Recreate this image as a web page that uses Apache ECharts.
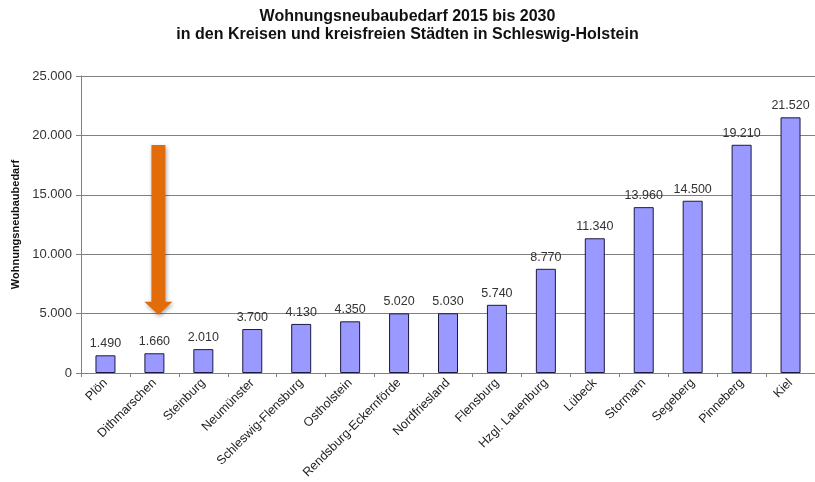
<!DOCTYPE html>
<html><head><meta charset="utf-8">
<script src="https://cdn.jsdelivr.net/npm/echarts@6/dist/echarts.min.js"></script>
<style>html,body{margin:0;padding:0;background:#fff}#c{width:815px;height:482px}</style>
</head><body><div id="c"></div>
<script>
const categories = ["Plön","Dithmarschen","Steinburg","Neumünster","Schleswig-Flensburg","Ostholstein","Rendsburg-Eckernförde","Nordfriesland","Flensburg","Hzgl. Lauenburg","Lübeck","Stormarn","Segeberg","Pinneberg","Kiel"];
const values = [1490,1660,2010,3700,4130,4350,5020,5030,5740,8770,11340,13960,14500,19210,21520];
const titleLines = ["Wohnungsneubaubedarf 2015 bis 2030","in den Kreisen und kreisfreien Städten in Schleswig-Holstein"];
const yAxisName = "Wohnungsneubaubedarf";
const arrowCategory = "Dithmarschen";
const arrowFrom = 19200, arrowTo = 4900;

const fmt = v => String(v).replace(/\B(?=(\d{3})+(?!\d))/g, ".");
const chart = echarts.init(document.getElementById('c'), null, {renderer:'canvas'});
chart.setOption({
  animation:false,
  backgroundColor:'#fff',
  title:{text:titleLines.join('\n'), left:'center', top:3,
    textStyle:{fontFamily:'Liberation Sans', fontSize:16, fontWeight:'bold', color:'#111', lineHeight:18}},
  grid:{left:81, right:0, top:76, bottom:109},
  xAxis:{type:'category', data:categories,
    axisLine:{lineStyle:{color:'#808080'}},
    axisTick:{show:true, length:4, alignWithLabel:false, lineStyle:{color:'#808080'}},
    axisLabel:{rotate:45, interval:0, margin:8, fontFamily:'Liberation Sans', fontSize:12.5, color:'#222'}},
  yAxis:{type:'value', min:0, max:25000, interval:5000,
    name:yAxisName, nameLocation:'middle', nameGap:57, nameRotate:90,
    nameTextStyle:{fontFamily:'Liberation Sans', fontSize:11, fontWeight:'bold', color:'#111'},
    axisLine:{show:true, lineStyle:{color:'#808080'}},
    axisTick:{show:true, length:5, lineStyle:{color:'#808080'}},
    splitLine:{lineStyle:{color:'#808080', width:1}},
    axisLabel:{formatter:fmt, fontFamily:'Liberation Sans', fontSize:13, color:'#333', margin:9}},
  series:[{type:'bar', data:values, barWidth:20,
    itemStyle:{color:'#9999FF', borderColor:'#1a1a40', borderWidth:1},
    label:{show:true, position:'top', distance:5, formatter:p=>fmt(p.value),
      fontFamily:'Liberation Sans', fontSize:12.5, color:'#333'}}]
});
const cx = chart.convertToPixel({xAxisIndex:0}, arrowCategory) + 4;
const yTop = chart.convertToPixel({yAxisIndex:0}, arrowFrom);
const yTip = chart.convertToPixel({yAxisIndex:0}, arrowTo);
const sw = 7, hw = 14, hh = 13;
chart.setOption({graphic:[{type:'polygon', z:100,
  shape:{points:[[cx-sw,yTop],[cx+sw,yTop],[cx+sw,yTip-hh],[cx+hw,yTip-hh],[cx,yTip],[cx-hw,yTip-hh],[cx-sw,yTip-hh]]},
  style:{fill:'#E36C0A', shadowBlur:4, shadowColor:'rgba(0,0,0,0.35)', shadowOffsetX:1, shadowOffsetY:2}}]});
</script></body></html>
